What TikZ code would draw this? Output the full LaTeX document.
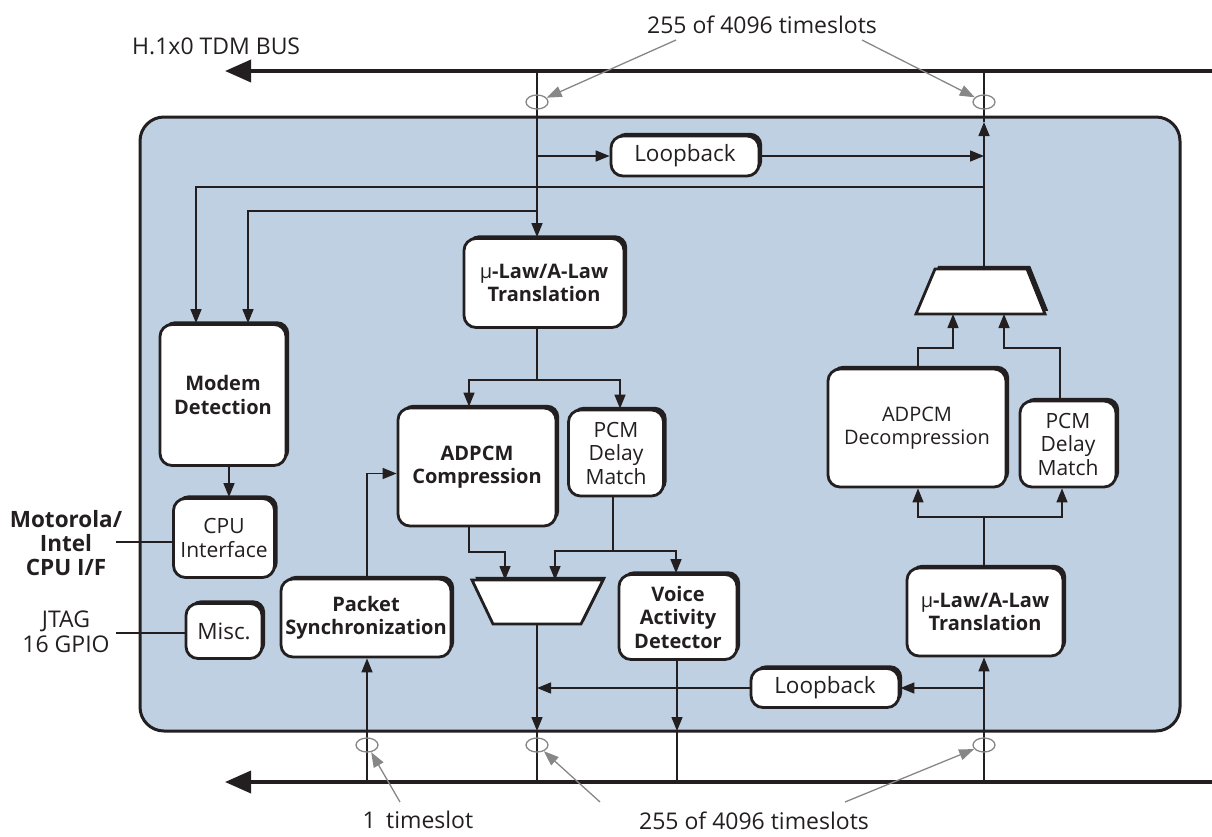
\documentclass[tikz,border=0pt]{standalone}
\usepackage{fontspec}
\setmainfont{Open Sans}
\usetikzlibrary{arrows.meta,shadows,shapes.geometric}
\definecolor{ink}{HTML}{231F20}
\definecolor{panel}{RGB}{190,208,225}
\definecolor{callout}{RGB}{135,135,135}
\tikzset{
  txt/.style={text=ink, font=\fontsize{23}{25}\selectfont, inner sep=0pt, align=center},
  blk/.style={draw=ink, fill=white, line width=2.8pt, rounded corners=12pt, align=center, text=ink,
    inner sep=0pt, font=\fontsize{21}{23.5}\selectfont,
    general shadow={fill=ink, shadow xshift=3.2pt, shadow yshift=3.2pt}},
  bblk/.style={blk, font=\fontsize{20}{23.5}\selectfont\bfseries},
  lblk/.style={blk, font=\fontsize{22.5}{24}\selectfont},
  muxshape/.style={draw=ink, fill=white, line width=2.8pt,
    general shadow={fill=ink, shadow xshift=3.2pt, shadow yshift=3.2pt}},
  wire/.style={draw=ink, line width=1.4pt},
  arr/.style={wire, -{Triangle[length=14pt,width=11pt]}},
  bus/.style={draw=ink, line width=3.6pt, -{Triangle[length=26pt,width=22pt]}},
  ring/.style={draw=callout, line width=1.3pt, ellipse, minimum width=22pt, minimum height=14pt, inner sep=0pt},
  callarr/.style={draw=callout, line width=1.3pt, -{Triangle[length=15pt,width=11pt]}},
}
\begin{document}
\begin{tikzpicture}[x=1pt,y=-1pt]
\useasboundingbox (0,0) rectangle (1212,836);
% panel
\node[draw=ink, fill=panel, line width=3pt, rounded corners=24pt, minimum width=1040pt, minimum height=614pt, inner sep=0pt] (panelbox) at (660,424) {};

% buses
\coordinate (busTR) at (1214,71);
\coordinate (busTL) at (225,71);
\coordinate (busBR) at (1214,782);
\coordinate (busBL) at (225,782);
\draw[bus] (busTR) -- (busTL);
\draw[bus] (busBR) -- (busBL);
\coordinate (t1) at (537,71);
\coordinate (t2) at (984,71);
\coordinate (b0) at (367,782);
\coordinate (b1) at (537,782);
\coordinate (b2) at (677,782);
\coordinate (b3) at (984,782);

% blocks
\node[lblk, minimum width=148pt, minimum height=40pt] (loopT) at (685,156) {Loopback};
\node[bblk, minimum width=160pt, minimum height=89pt] (muT) at (544,283) {{\mdseries µ}-Law/A-Law\\Translation};
\node[bblk, minimum width=126pt, minimum height=141pt] (modem) at (223,395) {Modem\\Detection};
\node[blk, minimum width=101pt, minimum height=79pt] (cpu) at (224,538) {CPU\\Interface};
\node[lblk, minimum width=76pt, minimum height=55pt] (misc) at (224,631) {Misc.};
\node[bblk, minimum width=170pt, minimum height=78pt] (pack) at (366,618) {Packet\\Synchronization};
\node[bblk, minimum width=158pt, minimum height=118pt] (adc) at (477,467) {ADPCM\\Compression};
\node[blk, minimum width=95pt, minimum height=86pt] (pcmL) at (616,453) {PCM\\Delay\\Match};
\node[bblk, minimum width=118pt, minimum height=85pt] (vad) at (678,617) {Voice\\Activity\\Detector};
\node[lblk, minimum width=148pt, minimum height=39pt] (loopB) at (825,688) {Loopback};
\node[bblk, minimum width=156pt, minimum height=88pt] (muB) at (985,612) {{\mdseries µ}-Law/A-Law\\Translation};
\node[blk, font=\fontsize{20}{23.5}\selectfont, minimum width=178pt, minimum height=118pt] (add) at (917,428) {ADPCM\\Decompression};
\node[blk, minimum width=96pt, minimum height=86pt] (pcmR) at (1068,444) {PCM\\Delay\\Match};

% multiplexers
\draw[muxshape] (472,580) -- (603,580) -- (581,624) -- (493,624) -- cycle;
\coordinate (mbA) at (505,580);
\coordinate (mbB) at (555,580);
\coordinate (mbO) at (537,624);
\draw[muxshape] (935,269) -- (1027,269) -- (1045,314) -- (916,314) -- cycle;
\coordinate (mtA) at (953,314);
\coordinate (mtB) at (1004,314);
\coordinate (mtO) at (984,269);

% receive path (top bus down)
\draw[arr] (t1) -- (muT.north -| t1);
\draw[arr] (t1 |- loopT.west) -- (loopT.west);
\draw[arr] (loopT.east) -- (loopT.east -| t2);
\coordinate (k3) at (984,122);
\draw[arr] (mtO) -- (k3);
\draw[wire] (k3) -- (t2);
\coordinate (j1) at (984,187);
\coordinate (j2) at (537,211);
\draw[arr] (j1) -| ([xshift=-27pt]modem.north);
\draw[arr] (j2) -| ([xshift=25pt]modem.north);
\coordinate (s1) at (537,380);
\draw[wire] (muT.south -| s1) -- (s1);
\draw[arr] (s1) -| ([xshift=-8pt]adc.north);
\draw[arr] (s1) -| ([xshift=4pt]pcmL.north);
\draw[arr] ([xshift=6pt]modem.south) -- ([xshift=6pt]modem.south |- cpu.north);
\coordinate (cpuL) at (116,542);
\coordinate (miscL) at (116,633);
\draw[wire] (cpuL) -- (cpuL -| cpu.west);
\draw[wire] (miscL) -- (miscL -| misc.west);
\draw[arr] (b0 |- pack.north) |- ([yshift=-6.5pt]adc.west);
\draw[arr] (b0) -- (b0 |- pack.south);
\coordinate (bA) at (505,552);
\draw[arr] ([xshift=-8pt]adc.south) |- (bA) -- (mbA);
\coordinate (s2) at (613,551);
\draw[wire] (s2 |- pcmL.south) -- (s2);
\draw[arr] (s2) -| (mbB);
\draw[arr] (s2) -| ([xshift=-2pt]vad.north);
\coordinate (k1) at (537,731);
\coordinate (k2) at (677,731);
\draw[arr] (mbO) -- (k1);
\draw[wire] (k1) -- (b1);
\draw[arr] (b2 |- vad.south) -- (k2);
\draw[wire] (k2) -- (b2);

% transmit path (bottom bus up)
\draw[arr] (b3) -- (b3 |- muB.south);
\draw[arr] (b3 |- loopB.east) -- (loopB.east);
\draw[arr] (loopB.west) -- (loopB.west -| b1);
\coordinate (s3) at (984,517);
\draw[wire] (s3 |- muB.north) -- (s3);
\draw[arr] (s3) -| ([xshift=1pt]add.south);
\draw[arr] (s3) -| ([xshift=-6pt]pcmR.south);
\coordinate (cA) at (953,348);
\coordinate (cB) at (1004,348);
\draw[arr] ([xshift=1pt]add.north) |- (cA) -- (mtA);
\draw[arr] ([xshift=-8pt]pcmR.north) |- (cB) -- (mtB);

% timeslot rings
\node[ring] (e1) at (537,102) {};
\node[ring] (e2) at (984,102) {};
\node[ring] (e3) at (367,745) {};
\node[ring] (e4) at (537,745) {};
\node[ring] (e5) at (984,745) {};

% labels
\node[txt, anchor=west] (busname) at (132,46) {H.1x0 TDM BUS};
\node[txt] (toplabel) at (762,25) {255 of 4096 timeslots};
\node[txt] (onets) at (418,820) {1\hspace{0.45em}timeslot};
\node[txt] (botlabel) at (754,821) {255 of 4096 timeslots};
\node[txt, font=\fontsize{22.5}{24}\selectfont\bfseries] (moto) at (66,543) {Motorola/\\Intel\\CPU I/F};
\node[txt] (jtag) at (66,632) {JTAG\\16 GPIO};

\coordinate (g1) at (676,40);
\coordinate (g2) at (862,40);
\coordinate (g3) at (400,802);
\coordinate (g4) at (600,802);
\coordinate (g5) at (845,802);
\draw[callarr] (g1) -- (e1);
\draw[callarr] (g2) -- (e2);
\draw[callarr] (g3) -- (e3);
\draw[callarr] (g4) -- (e4);
\draw[callarr] (g5) -- (e5);
\end{tikzpicture}
\end{document}
